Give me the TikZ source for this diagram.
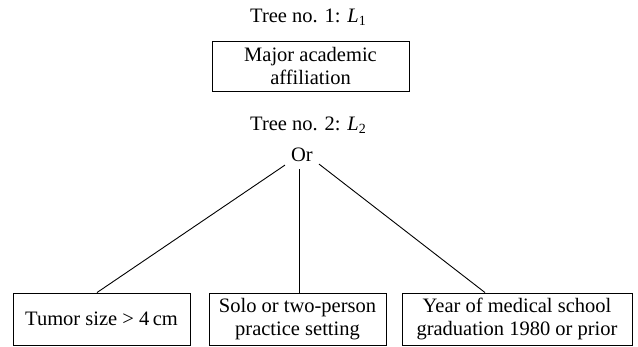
\documentclass[tikz,border=0pt]{standalone}
\usepackage{fontspec}
\setmainfont{Liberation Serif}
\usetikzlibrary{calc}
\tikzset{
  leaf/.style={draw, line width=0.9pt, minimum height=52pt, align=center, inner sep=2pt,
    font=\fontsize{20.5}{23}\selectfont},
  title/.style={font=\fontsize{20.5}{23}\selectfont, inner sep=0pt},
  conn/.style={line width=0.9pt}
}
\newcommand{\Lsub}[1]{{\itshape L}\raisebox{-0.35ex}{\fontsize{14}{14}\selectfont #1}}
\begin{document}
\begin{tikzpicture}[x=1pt,y=-1pt]
\useasboundingbox (0,0) rectangle (638,347);
\node[title] (t1) at (308,17) {Tree no. 1: \Lsub{1}};
\node[leaf, minimum width=197pt, minimum height=50pt] (a1) at (310.5,66) {Major academic\\affiliation};
\node[title] (t2) at (308,125) {Tree no. 2: \Lsub{2}};
\node[title, inner sep=2pt] (or) at (302,155) {Or};
\node[leaf, minimum width=177pt] (b1) at (101.5,319) {Tumor size > 4\,cm};
\node[leaf, minimum width=177pt] (b2) at (297.5,319) {Solo or two-person\\practice setting};
\node[leaf, minimum width=230pt] (b3) at (517,319) {Year of medical school\\graduation 1980 or prior};
\draw[conn] ($(or.south west)+(-4,1)$) -- ($(b1.north)+(-4.5,0)$);
\draw[conn] ($(or.south)+(-3,5)$) -- ($(b2.north)+(1.5,0)$);
\draw[conn] ($(or.south east)+(4,0)$) -- ($(b3.north)+(-32,0)$);
\end{tikzpicture}
\end{document}
